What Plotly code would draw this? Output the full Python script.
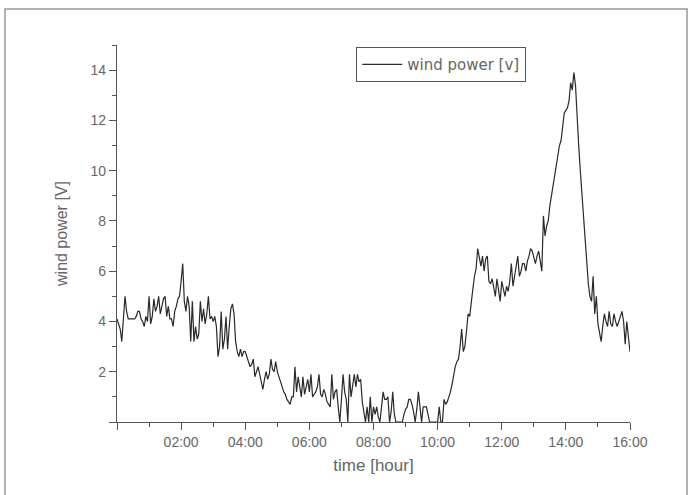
import numpy as np
import plotly.graph_objects as go

# time in hours, sampled every 3 minutes (0.05 h)
step_hours = 0.05
power_h00 = [4.1, 3.9, 3.7, 3.2, 4.2, 5.0, 4.4, 4.1, 4.1, 4.1, 4.1, 4.1, 4.2, 4.4, 4.4, 4.1, 4.0, 3.8, 4.2, 4.0]
power_h01 = [5.0, 3.9, 4.2, 4.9, 4.4, 4.6, 5.0, 4.3, 4.6, 4.9, 5.0, 4.2, 4.6, 4.1, 4.1, 3.8, 4.4, 4.6, 4.9, 5.0]
power_h02 = [5.6, 6.3, 4.8, 4.4, 5.0, 4.6, 3.2, 4.8, 3.2, 3.8, 3.3, 3.5, 4.8, 4.0, 4.5, 3.9, 4.3, 5.0, 4.1, 4.2]
power_h03 = [4.0, 4.2, 3.8, 2.6, 3.0, 4.4, 2.9, 3.3, 4.2, 2.9, 3.8, 4.5, 4.7, 4.3, 3.2, 2.8, 2.6, 2.9, 2.6, 2.8]
power_h04 = [2.8, 2.6, 2.4, 2.2, 2.3, 2.5, 1.8, 2.0, 2.2, 1.9, 1.6, 1.3, 1.7, 2.0, 1.7, 1.9, 2.5, 2.1, 2.0, 2.4]
power_h05 = [2.0, 1.8, 1.6, 1.4, 1.2, 1.1, 0.9, 0.8, 0.7, 1.0, 1.0, 2.2, 1.2, 1.8, 1.3, 1.0, 1.8, 1.1, 1.4, 1.7]
power_h06 = [1.2, 1.9, 1.0, 1.1, 1.2, 1.4, 1.9, 1.1, 1.0, 1.3, 1.1, 0.8, 0.7, 0.6, 1.9, 0.9, 1.2, 1.3, 0.6, 0.0]
power_h07 = [0.9, 1.9, 1.2, 0.9, 0.0, 1.9, 1.0, 1.4, 1.9, 1.4, 1.9, 1.6, 1.7, 0.8, 0.3, 0.0, 0.6, 0.0, 1.0, 0.0]
power_h08 = [0.6, 0.3, 0.6, 0.2, 0.0, 0.6, 1.2, 0.9, 0.9, 1.0, 0.0, 0.4, 1.2, 0.3, 0.0, 0.0, 0.0, 0.0, 0.0, 0.3]
power_h09 = [0.5, 0.6, 0.9, 0.9, 0.7, 0.4, 0.0, 0.5, 1.2, 0.6, 0.0, 0.6, 0.6, 0.6, 0.3, 0.0, 0.0, 0.0, 0.0, 0.0]
power_h10 = [0.0, 0.6, 0.0, 0.0, 0.9, 0.7, 0.8, 1.0, 1.2, 1.5, 1.9, 2.2, 2.4, 2.5, 3.0, 3.7, 2.8, 3.0, 3.6, 4.3]
power_h11 = [4.2, 4.9, 5.3, 5.8, 6.1, 6.9, 6.6, 6.2, 6.6, 6.0, 6.5, 6.6, 5.6, 5.5, 5.7, 5.3, 5.0, 5.7, 5.2, 4.8]
power_h12 = [5.6, 5.3, 5.0, 5.4, 5.2, 5.6, 6.3, 5.4, 5.8, 6.1, 6.6, 5.8, 6.0, 6.3, 6.3, 6.0, 6.4, 6.6, 6.9, 6.8]
power_h13 = [6.5, 6.3, 6.6, 6.8, 6.4, 6.0, 8.2, 7.4, 7.8, 8.0, 8.6, 9.0, 9.3, 9.8, 10.2, 10.6, 11.0, 11.2, 11.8, 12.3]
power_h14 = [12.4, 12.5, 12.8, 13.5, 13.2, 13.9, 13.4, 12.0, 11.0, 10.0, 9.0, 8.0, 7.0, 6.4, 5.5, 5.0, 4.8, 5.8, 4.3, 5.0]
power_h15 = [3.9, 3.6, 3.2, 3.8, 4.3, 4.0, 3.8, 4.4, 3.9, 3.8, 4.3, 4.0, 3.8, 4.0, 4.2, 4.4, 4.0, 3.1, 4.0, 3.3]
power_h16 = [2.8]

power = (power_h00 + power_h01 + power_h02 + power_h03 + power_h04 + power_h05 +
         power_h06 + power_h07 + power_h08 + power_h09 + power_h10 + power_h11 +
         power_h12 + power_h13 + power_h14 + power_h15 + power_h16)
time_h = [round(i * step_hours, 4) for i in range(len(power))]

x_tickvals = [0, 2, 4, 6, 8, 10, 12, 14, 16]
x_ticktext = ["", "02:00", "04:00", "06:00", "08:00", "10:00", "12:00", "14:00", "16:00"]
y_tickvals = [0, 2, 4, 6, 8, 10, 12, 14]
y_ticktext = ["", "2", "4", "6", "8", "10", "12", "14"]

FONT = "Liberation Sans, Arial, sans-serif"
TXT = "#666666"
AX = "#555555"

fig = go.Figure()
fig.add_trace(go.Scatter(
    x=time_h, y=power, mode="lines", name="wind power [v]",
    line=dict(color="#2a2a2a", width=1.2),
))

axis_common = dict(
    showline=True, linecolor=AX, linewidth=1.2,
    ticks="outside", tickcolor=AX, tickwidth=1.2, ticklen=7,
    showgrid=False, zeroline=False, mirror=False,
    tickfont=dict(family=FONT, size=14, color=TXT),
)

fig.update_layout(
    width=691, height=495,
    margin=dict(l=117, r=61, t=45, b=73),
    paper_bgcolor="white", plot_bgcolor="white",
    font=dict(family=FONT, color=TXT),
    xaxis=dict(
        range=[0, 16], tickmode="array", tickvals=x_tickvals, ticktext=x_ticktext,
        minor=dict(ticks="outside", dtick=1, tick0=0, ticklen=4, tickcolor=AX, tickwidth=1.2),
        title=dict(text="time [hour]", font=dict(family=FONT, size=17, color=TXT), standoff=10),
        **axis_common,
    ),
    yaxis=dict(
        range=[0, 15], tickmode="array", tickvals=y_tickvals, ticktext=y_ticktext,
        minor=dict(ticks="outside", dtick=1, tick0=0, ticklen=4, tickcolor=AX, tickwidth=1.2),
        title=dict(text="wind power [V]", font=dict(family=FONT, size=16, color=TXT), standoff=18),
        **axis_common,
    ),
    showlegend=True,
    legend=dict(
        x=0.466, y=0.995, xanchor="left", yanchor="top",
        bordercolor=AX, borderwidth=1.2, bgcolor="white",
        font=dict(family="DejaVu Sans, sans-serif", size=15, color=TXT),
        itemwidth=40,
    ),
    shapes=[dict(
        type="rect", xref="paper", yref="paper",
        x0=(5 - 117) / 513, x1=(687 - 117) / 513,
        y0=-0.21, y1=(422 - 9) / 377,
        line=dict(color="#999999", width=1.5), fillcolor="rgba(0,0,0,0)", layer="below",
    )],
)

fig.write_html("out.html")
